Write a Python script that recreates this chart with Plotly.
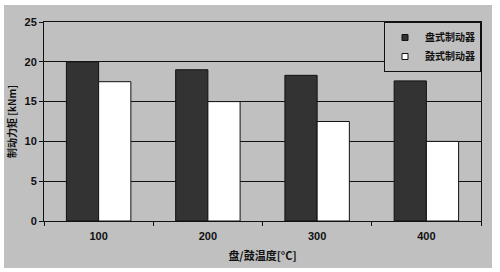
import plotly.graph_objects as go

categories = ["100", "200", "300", "400"]
disc_values = [20.0, 19.0, 18.3, 17.6]
drum_values = [17.5, 15.0, 12.5, 10.0]
series_names = ["盘式制动器", "鼓式制动器"]
y_ticks = [0, 5, 10, 15, 20, 25]

GREY = "#c0c0c0"
FONT = "Liberation Sans, Arial, sans-serif"
CJK = "Noto Sans CJK SC, sans-serif"
DARK = "#333333"

fig = go.Figure()
fig.add_trace(go.Bar(x=categories, y=disc_values, name=series_names[0], showlegend=False,
                     marker=dict(color=DARK, line=dict(color="#111111", width=1))))
fig.add_trace(go.Bar(x=categories, y=drum_values, name=series_names[1], showlegend=False,
                     marker=dict(color="#ffffff", line=dict(color="#111111", width=1))))
# legend entries with small square symbols, as in the reference
for name, col in zip(series_names, [DARK, "#ffffff"]):
    fig.add_trace(go.Scatter(x=[categories[0]], y=[None], mode="markers", name=name,
                             marker=dict(symbol="square", size=6, color=col,
                                         line=dict(color="#111111", width=1))))

fig.update_layout(
    width=500, height=272,
    margin=dict(l=44, r=19, t=22, b=51),
    paper_bgcolor="#ffffff",
    plot_bgcolor=GREY,
    barmode="group", bargap=0.41, bargroupgap=0,
    font=dict(family=FONT, size=10, color="#111111"),
    showlegend=True,
    legend=dict(x=1, y=1, xanchor="right", yanchor="top",
                bgcolor=GREY, bordercolor="#111111", borderwidth=1,
                font=dict(size=10, family=CJK, weight="bold"),
                itemwidth=30, itemsizing="trace", tracegroupgap=2),
    shapes=[dict(type="rect", xref="paper", yref="paper",
                 x0=-40/437, x1=1 + 11/437, y0=-47/199, y1=1 + 17/199,
                 fillcolor=GREY, line=dict(width=0), layer="below")],
)
fig.update_xaxes(
    type="category", tickson="boundaries", ticks="outside", ticklen=4, automargin=False,
    tickcolor="#111111", showline=True, linecolor="#111111", linewidth=1, mirror=True,
    showgrid=False, ticklabelstandoff=5,
    tickfont=dict(size=11, family=FONT, weight="bold"),
    title=dict(text="盘/鼓温度[°C]", font=dict(size=11, family=CJK, weight="bold"), standoff=11),
)
fig.update_yaxes(
    range=[0, 25], tickvals=y_ticks, ticks="outside", ticklen=4, tickcolor="#111111",
    automargin=False,
    showline=True, linecolor="#111111", linewidth=1, mirror=True,
    showgrid=True, gridcolor="#111111", gridwidth=1, zeroline=False,
    tickfont=dict(size=11, family=FONT, weight="bold"),
    title=dict(text="制动力矩 [kNm]", font=dict(size=10, family=CJK, weight="bold"), standoff=6),
)

fig.write_html("out.html")
